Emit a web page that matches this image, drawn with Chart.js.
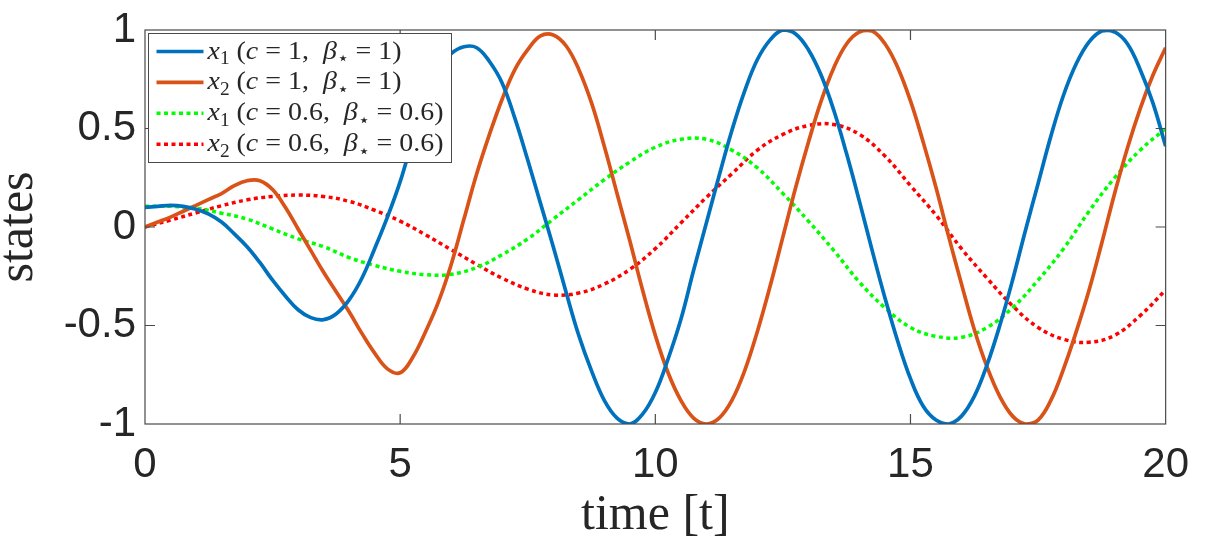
<!DOCTYPE html>
<html>
<head>
<meta charset="utf-8">
<script src="https://cdn.jsdelivr.net/npm/chart.js@4/dist/chart.umd.min.js"></script>
<style>
  body { margin: 0; background: #fff; }
  canvas { display: block; }
</style>
</head>
<body>
<canvas id="grafico" width="1205" height="550"></canvas>
<script>
// valores
const labels = [
  'x_1 (c = 1,  β_⋆ = 1)',
  'x_2 (c = 1,  β_⋆ = 1)',
  'x_1 (c = 0.6,  β_⋆ = 0.6)',
  'x_2 (c = 0.6,  β_⋆ = 0.6)'
];

const xTickValues = [0, 5, 10, 15, 20];
const xTickLabels = ['0', '5', '10', '15', '20'];
const yTickValues = [-1, -0.5, 0, 0.5, 1];
const yTickLabels = ['-1', '-0.5', '0', '0.5', '1'];

// tiempos: cada 0.25 para c = 1, cada 0.5 para c = 0.6
const t_fine = [0, 0.25, 0.5, 0.75, 1, 1.25, 1.5, 1.75, 2, 2.25, 2.5, 2.75, 3, 3.25, 3.5, 3.75, 4, 4.25, 4.5, 4.75,
  5, 5.25, 5.5, 5.75, 6, 6.25, 6.5, 6.75, 7, 7.25, 7.5, 7.75, 8, 8.25, 8.5, 8.75, 9, 9.25, 9.5, 9.75,
  10, 10.25, 10.5, 10.75, 11, 11.25, 11.5, 11.75, 12, 12.25, 12.5, 12.75, 13, 13.25, 13.5, 13.75, 14, 14.25, 14.5, 14.75,
  15, 15.25, 15.5, 15.75, 16, 16.25, 16.5, 16.75, 17, 17.25, 17.5, 17.75, 18, 18.25, 18.5, 18.75, 19, 19.25, 19.5, 19.75, 20];
const t_coarse = [0, 0.5, 1, 1.5, 2, 2.5, 3, 3.5, 4, 4.5, 5, 5.5, 6, 6.5, 7, 7.5, 8, 8.5, 9, 9.5,
  10, 10.5, 11, 11.5, 12, 12.5, 13, 13.5, 14, 14.5, 15, 15.5, 16, 16.5, 17, 17.5, 18, 18.5, 19, 19.5, 20];

const x1_c1 = [0.10, 0.105, 0.11, 0.105, 0.09, 0.065, 0.025, -0.035, -0.10, -0.18, -0.27, -0.35, -0.42, -0.46, -0.47, -0.44, -0.37, -0.26, -0.11, 0.05,
  0.23, 0.45, 0.66, 0.80, 0.88, 0.915, 0.91, 0.84, 0.73, 0.55, 0.34, 0.12, -0.10, -0.33, -0.55, -0.73, -0.88, -0.97, -1.0, -0.95,
  -0.84, -0.67, -0.47, -0.22, 0.02, 0.26, 0.49, 0.69, 0.85, 0.95, 1.0, 0.98, 0.90, 0.77, 0.59, 0.37, 0.13, -0.12, -0.36, -0.58,
  -0.77, -0.91, -0.98, -1.0, -0.96, -0.86, -0.70, -0.50, -0.27, -0.02, 0.22, 0.46, 0.67, 0.83, 0.94, 0.995, 0.99, 0.93, 0.80, 0.63, 0.41];

const x2_c1 = [0.0, 0.025, 0.05, 0.08, 0.11, 0.14, 0.17, 0.21, 0.235, 0.235, 0.19, 0.10, -0.01, -0.12, -0.23, -0.33, -0.43, -0.54, -0.64, -0.72,
  -0.74, -0.66, -0.53, -0.38, -0.19, 0.04, 0.27, 0.47, 0.65, 0.80, 0.90, 0.97, 0.975, 0.92, 0.80, 0.63, 0.41, 0.17, -0.07, -0.32,
  -0.55, -0.74, -0.88, -0.97, -1.0, -0.97, -0.88, -0.73, -0.53, -0.30, -0.05, 0.20, 0.43, 0.64, 0.81, 0.93, 0.99, 0.995, 0.93, 0.81,
  0.64, 0.43, 0.20, -0.05, -0.29, -0.52, -0.71, -0.86, -0.96, -1.0, -0.98, -0.88, -0.72, -0.53, -0.32, -0.08, 0.17, 0.40, 0.60, 0.77, 0.91];

const x1_c06 = [0.105, 0.105, 0.095, 0.07, 0.04, -0.01, -0.06, -0.10, -0.155, -0.195, -0.225, -0.242, -0.24, -0.205, -0.14, -0.06, 0.04, 0.14, 0.24, 0.33,
  0.405, 0.445, 0.445, 0.39, 0.30, 0.17, 0.03, -0.12, -0.28, -0.41, -0.51, -0.555, -0.56, -0.51, -0.41, -0.27, -0.11, 0.08, 0.25, 0.39, 0.50];

const x2_c06 = [0.0, 0.035, 0.072, 0.108, 0.138, 0.155, 0.162, 0.155, 0.13, 0.085, 0.03, -0.04, -0.115, -0.19, -0.26, -0.315, -0.345, -0.335, -0.29, -0.215,
  -0.11, 0.02, 0.15, 0.27, 0.39, 0.47, 0.515, 0.52, 0.47, 0.36, 0.21, 0.06, -0.11, -0.26, -0.40, -0.51, -0.57, -0.585, -0.55, -0.45, -0.32];

const colores = ['#0072BD', '#D95319', '#00FF00', '#FF0000'];
const textColor = '#262626';

function puntos(t, v) {
  return t.map((ti, i) => ({ x: ti, y: v[i] }));
}

// texto con subindices y cursiva para las variables
function parseLabel(str) {
  const out = [];
  for (let i = 0; i < str.length; i++) {
    let ch = str[i], sub = false;
    if (ch === '_') { sub = true; ch = str[++i]; }
    out.push({ ch, sub, it: /[A-Za-z\u03b1-\u03c9]/.test(ch) });
  }
  return out;
}

function fontFor(r, size) {
  const s = r.sub ? Math.round(size * 0.7) : size;
  return `${r.it ? 'italic ' : ''}${s}px "Liberation Serif", "DejaVu Serif", serif`;
}

function labelWidth(ctx, runs, size) {
  let w = 0;
  runs.forEach(r => { ctx.font = fontFor(r, size); w += ctx.measureText(r.ch).width; });
  return w;
}

const boxPlugin = {
  id: 'caja',
  afterDatasetsDraw(chart) {
    const { ctx, chartArea: a, scales: { x, y } } = chart;
    ctx.save();
    ctx.strokeStyle = '#4a4a4a';
    ctx.lineWidth = 1.2;
    ctx.strokeRect(a.left, a.top, a.width, a.height);
    ctx.beginPath();
    xTickValues.forEach(v => {
      const px = x.getPixelForValue(v);
      if (px <= a.left + 1 || px >= a.right - 1) return;
      ctx.moveTo(px, a.bottom); ctx.lineTo(px, a.bottom - 10);
      ctx.moveTo(px, a.top); ctx.lineTo(px, a.top + 10);
    });
    yTickValues.forEach(v => {
      const py = y.getPixelForValue(v);
      if (py <= a.top + 1 || py >= a.bottom - 1) return;
      ctx.moveTo(a.left, py); ctx.lineTo(a.left + 10, py);
      ctx.moveTo(a.right, py); ctx.lineTo(a.right - 10, py);
    });
    ctx.stroke();
    ctx.restore();
  }
};

const legendPlugin = {
  id: 'leyenda',
  afterDraw(chart) {
    const ctx = chart.ctx;
    const a = chart.chartArea;
    const box = { x: a.left + 3.5, y: a.top + 3.5, w: 303, h: 129 };
    const size = 26;
    const sets = chart.data.datasets;
    const runs = sets.map(d => parseLabel(d.label));
    const maxW = Math.max(...runs.map(r => labelWidth(ctx, r, size)));
    const sx = 236 / maxW;

    ctx.save();
    ctx.fillStyle = '#fff';
    ctx.fillRect(box.x, box.y, box.w, box.h);
    ctx.strokeStyle = '#4a4a4a';
    ctx.lineWidth = 1;
    ctx.strokeRect(box.x, box.y, box.w, box.h);

    sets.forEach((d, i) => {
      const rowY = box.y + 18 + i * 30.9;
      ctx.beginPath();
      ctx.strokeStyle = d.borderColor;
      ctx.lineWidth = d.borderWidth;
      ctx.setLineDash(d.borderDash || []);
      ctx.moveTo(box.x + 8, rowY);
      ctx.lineTo(box.x + 55, rowY);
      ctx.stroke();
      ctx.setLineDash([]);

      ctx.save();
      ctx.translate(box.x + 59, rowY + 7);
      ctx.scale(sx, 1);
      ctx.fillStyle = textColor;
      ctx.textBaseline = 'alphabetic';
      let cx = 0;
      runs[i].forEach(r => {
        ctx.font = fontFor(r, size);
        ctx.fillText(r.ch, cx, r.sub ? size * 0.22 : 0);
        cx += ctx.measureText(r.ch).width;
      });
      ctx.restore();
    });
    ctx.restore();
  }
};

const series = [
  { t: t_fine, v: x1_c1, dash: [], width: 3.7 },
  { t: t_fine, v: x2_c1, dash: [], width: 3.7 },
  { t: t_coarse, v: x1_c06, dash: [4, 3.5], width: 3.5 },
  { t: t_coarse, v: x2_c06, dash: [4, 3.5], width: 3.5 }
];

new Chart(document.getElementById('grafico'), {
  type: 'line',
  data: {
    datasets: series.map((s, i) => ({
      label: labels[i],
      data: puntos(s.t, s.v),
      borderColor: colores[i],
      backgroundColor: colores[i],
      borderWidth: s.width,
      borderDash: s.dash,
      pointRadius: 0,
      fill: false,
      tension: 0.4
    }))
  },
  options: {
    responsive: false,
    animation: false,
    layout: { padding: { top: 24, right: 38, left: 0, bottom: 0 } },
    plugins: { legend: { display: false }, tooltip: { enabled: false } },
    scales: {
      x: {
        type: 'linear',
        min: 0,
        max: 20,
        grid: { display: false, drawTicks: false },
        border: { display: false },
        afterBuildTicks: s => { s.ticks = xTickValues.map(v => ({ value: v })); },
        afterFit: s => { s.height = 126; },
        ticks: {
          padding: 16,
          maxRotation: 0,
          color: textColor,
          font: { family: '"Liberation Sans", Arial, sans-serif', size: 42, lineHeight: 1.2 },
          callback: v => xTickLabels[xTickValues.indexOf(v)]
        },
        title: {
          display: true,
          text: 'time [t]',
          color: textColor,
          font: { family: '"Liberation Serif", serif', size: 50, lineHeight: 1.2 },
          padding: { top: 0, bottom: 4 }
        }
      },
      y: {
        min: -1,
        max: 1,
        grid: { display: false, drawTicks: false },
        border: { display: false },
        afterBuildTicks: s => { s.ticks = yTickValues.map(v => ({ value: v })); },
        afterFit: s => { s.width = 145; },
        ticks: {
          padding: 9,
          color: textColor,
          font: { family: '"Liberation Sans", Arial, sans-serif', size: 42, lineHeight: 1.0 },
          callback: v => yTickLabels[yTickValues.indexOf(v)]
        },
        title: {
          display: true,
          text: 'states',
          color: textColor,
          font: { family: '"Liberation Serif", serif', size: 50, lineHeight: 0.76 },
          padding: { top: 0, bottom: 0 }
        }
      }
    }
  },
  plugins: [boxPlugin, legendPlugin]
});
</script>
</body>
</html>
